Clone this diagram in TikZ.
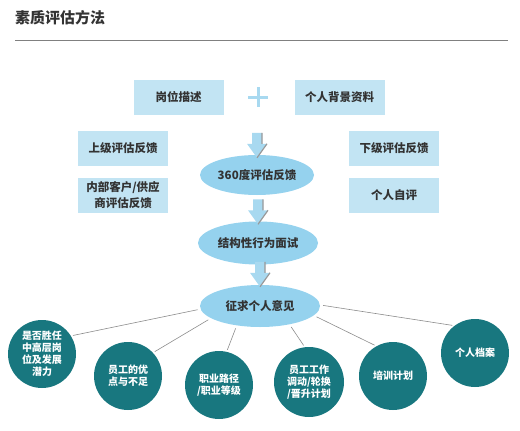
\documentclass[tikz,border=0pt]{standalone}
\usepackage{fontspec}
\setmainfont{Noto Sans CJK SC}
\usetikzlibrary{shapes.geometric}
\definecolor{boxblue}{HTML}{C2E4F3}
\definecolor{ellblue}{HTML}{95D2EE}
\definecolor{arrblue}{HTML}{A8D9F0}
\definecolor{teal}{HTML}{18777F}
\definecolor{txt}{HTML}{333333}
\tikzset{
  infobox/.style={fill=boxblue, minimum width=90pt, minimum height=35pt, inner sep=0pt,
    align=center, text=txt, font=\fontsize{11.5}{16}\selectfont\bfseries},
  ovalnode/.style={ellipse, fill=ellblue, inner sep=0pt, text=txt,
    font=\fontsize{11.5}{16}\selectfont\bfseries},
  tealcircle/.style={circle, fill=teal, minimum size=68pt, inner sep=0pt, align=center,
    text=white, font=\fontsize{10}{12}\selectfont\bfseries},
  link/.style={draw=black!45, line width=0.6pt, shorten <=3pt, shorten >=2pt},
  blockarrow/.pic={
    \fill[arrblue] (0,0) -- (-10,-14) -- (-5,-14) -- (-5,-25) -- (5,-25) -- (5,-14) -- (10,-14) -- cycle;
    \draw[black!40, line width=1.2pt] (5,-25) -- (5,-14) (10,-14) -- (0,0);
  }
}
\begin{document}
\begin{tikzpicture}[x=1pt, y=-1pt]
\useasboundingbox (0,0) rectangle (520,431);
% title
\node[anchor=west, text=txt, font=\fontsize{15}{18}\selectfont\bfseries, inner sep=0pt] (title) at (15,18) {素质评估方法};
\draw[black!50, line width=0.8pt] (15,40) -- (508,40);
% top boxes
\node[infobox] (gw) at (178.5,97) {岗位描述};
\node[infobox] (bj) at (339.5,97) {个人背景资料};
\draw[arrblue, line width=3pt] (248,97) -- (268,97) (258,87) -- (258,107);
\node[infobox] (sj) at (123,148) {上级评估反馈};
\node[infobox] (nb) at (123,195.5) {内部客户/供应\\商评估反馈};
\node[infobox] (xj) at (394,148) {下级评估反馈};
\node[infobox] (zp) at (394,195.5) {个人自评};
% ellipses
\node[ovalnode, minimum width=114pt, minimum height=40pt] (e1) at (257,175) {360度评估反馈};
\node[ovalnode, minimum width=120pt, minimum height=43pt] (e2) at (258,243) {结构性行为面试};
\node[ovalnode, minimum width=120pt, minimum height=42pt] (e3) at (260,306) {征求个人意见};
% block arrows
\pic at ([yshift=-3pt]e1.north) {blockarrow};
\pic at ([yshift=-3pt]e2.north) {blockarrow};
\pic at ([yshift=-2pt]e3.north) {blockarrow};
% circles
\node[tealcircle] (c1) at (42,354) {是否胜任\\中高层岗\\位及发展\\潜力};
\node[tealcircle] (c2) at (128,376) {员工的优\\点与不足};
\node[tealcircle] (c3) at (219,385) {职业路径\\/职业等级};
\node[tealcircle, minimum size=70pt] (c4) at (309,382) {员工工作\\调动/轮换\\/晋升计划};
\node[tealcircle] (c5) at (393,376) {培训计划};
\node[tealcircle] (c6) at (475,353) {个人档案};
% connectors
\draw[link] (e3.183) -- (c1.32);
\draw[link] (e3.194) -- (c2.43);
\draw[link] (e3.220) -- (c3.77);
\draw[link] (e3.328) -- (c4.97);
\draw[link] (e3.350) -- (c5.119);
\draw[link] (e3.1) -- (c6.127);
\end{tikzpicture}
\end{document}
